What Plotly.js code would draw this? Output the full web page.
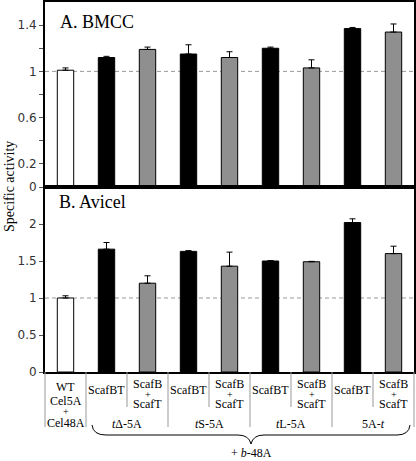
<!DOCTYPE html>
<html><head><meta charset="utf-8">
<script src="https://cdn.plot.ly/plotly-3.0.1.min.js"></script>
<style>html,body{margin:0;padding:0;background:#fff}</style>
</head><body><div id="chart" style="width:416px;height:461px"></div>
<script>
// ---- data ----
const categories = ['WT', 'tΔ-5A ScafBT', 'tΔ-5A ScafB+ScafT', 'tS-5A ScafBT', 'tS-5A ScafB+ScafT',
                    'tL-5A ScafBT', 'tL-5A ScafB+ScafT', '5A-t ScafBT', '5A-t ScafB+ScafT'];
const kinds = ['wt', 'bt', 'bst', 'bt', 'bst', 'bt', 'bst', 'bt', 'bst'];
const bmcc = [1.01, 1.12, 1.19, 1.15, 1.12, 1.20, 1.03, 1.37, 1.34];
const bmccErr = [0.02, 0.01, 0.02, 0.08, 0.05, 0.01, 0.07, 0.01, 0.07];
const avicel = [1.00, 1.66, 1.20, 1.63, 1.43, 1.50, 1.49, 2.02, 1.60];
const avicelErr = [0.03, 0.09, 0.10, 0.01, 0.19, 0.005, 0.005, 0.05, 0.10];
const catLabelLines = [['WT', 'Cel5A', '+', 'Cel48A'], ['ScafBT'], ['ScafB', '+', 'ScafT'], ['ScafBT'], ['ScafB', '+', 'ScafT'],
                       ['ScafBT'], ['ScafB', '+', 'ScafT'], ['ScafBT'], ['ScafB', '+', 'ScafT']];
const groupLabels = ['<i>t</i>Δ-5A', '<i>t</i>S-5A', '<i>t</i>L-5A', '5A-<i>t</i>'];
const bmccTickVals = [0, 0.2, 0.4, 0.6, 0.8, 1, 1.2, 1.4];
const bmccTickText = ['0', '0.2', '', '0.6', '', '1', '', '1.4'];
const avicelTickVals = [0, 0.5, 1, 1.5, 2];
const avicelTickText = ['0', '0.5', '1', '1.5', '2'];

// ---- styling ----
const W = 416, H = 461, ML = 45, MR = 2, MT = 2, MB = 89;
const PW = W - ML - MR, PH = H - MT - MB;
const px2x = p => (p - ML) / PW;
const px2y = p => (H - MB - p) / PH;
const colorMap = {wt: '#ffffff', bt: '#000000', bst: '#8f8f8f'};
const colors = kinds.map(k => colorMap[k]);
const xs = categories.map((c, i) => i);
const serif = 'Liberation Serif, Times New Roman, serif';
const sans = 'DejaVu Sans, Verdana, sans-serif';

function barTrace(vals, errs, xa, ya) {
  return {
    type: 'bar', x: xs, y: vals, xaxis: xa, yaxis: ya, width: 0.4,
    marker: {color: colors, line: {color: '#000', width: 1}},
    error_y: {type: 'data', symmetric: false, array: errs, arrayminus: vals.map(() => 0),
              color: '#000', thickness: 1, width: 3},
    hoverinfo: 'skip', showlegend: false, customdata: categories, textposition: 'none'
  };
}

const data = [barTrace(bmcc, bmccErr, 'x', 'y'), barTrace(avicel, avicelErr, 'x2', 'y2')];

const axX = {range: [-0.5, 8.5], showline: true, mirror: true, linewidth: 2, linecolor: '#000',
             showticklabels: false, ticks: '', showgrid: false, zeroline: false, fixedrange: true};
const axY = {showline: true, mirror: true, linewidth: 2, linecolor: '#000', ticks: 'outside', ticklen: 4,
             tickwidth: 1, tickcolor: '#555', showgrid: false, zeroline: false,
             tickfont: {family: sans, size: 12, color: '#333'}, tickmode: 'array'};

const shapes = [];
const annotations = [];
// dashed reference lines
['y', 'y2'].forEach(yr => shapes.push({type: 'line', xref: 'paper', x0: 0, x1: 1, yref: yr, y0: 1, y1: 1,
  layer: 'below', line: {color: '#999', width: 1, dash: '4px,3px'}}));
// separators in category table
const yBase = H - MB;
for (let b = 0; b <= 9; b++) {
  const isLong = (b === 0 || b === 1 || b === 9 || (b % 2 === 1));
  const yEnd = isLong ? 427 : 407;
  shapes.push({type: 'line', xref: 'paper', yref: 'paper', x0: b / 9, x1: b / 9,
    y0: px2y(yBase), y1: px2y(yEnd), line: {color: '#999', width: 1}});
}
// category labels
const linePos = {1: [390], 3: [384, 394, 404], 4: [387, 401, 411, 423]};
catLabelLines.forEach((lines, i) => {
  lines.forEach((t, j) => annotations.push({xref: 'paper', yref: 'paper', x: (i + 0.5) / 9,
    y: px2y(linePos[lines.length][j]), text: t, showarrow: false, xanchor: 'center', yanchor: 'middle',
    borderpad: 0, font: {family: serif, size: t === '+' ? 10 : 12, color: '#000'}}));
});
groupLabels.forEach((t, g) => annotations.push({xref: 'paper', yref: 'paper', x: (2 * g + 2) / 9,
  y: px2y(424), text: t, showarrow: false, xanchor: 'center', yanchor: 'middle', borderpad: 0,
  font: {family: serif, size: 12, color: '#000'}}));
// brace
const P = (x, y) => px2x(x).toFixed(4) + ',' + px2y(y).toFixed(4);
shapes.push({type: 'path', xref: 'paper', yref: 'paper', line: {color: '#000', width: 1},
  path: 'M' + P(92, 425) + ' Q' + P(93, 435) + ' ' + P(106, 435) + ' L' + P(238, 435) + ' Q' + P(249, 435) + ' ' + P(251, 444) +
        ' Q' + P(253, 435) + ' ' + P(264, 435) + ' L' + P(397, 435) + ' Q' + P(409, 435) + ' ' + P(410, 425)});
annotations.push({xref: 'paper', yref: 'paper', x: px2x(251), y: px2y(453), text: '+ <i>b</i>-48A',
  showarrow: false, xanchor: 'center', yanchor: 'middle', borderpad: 0, font: {family: serif, size: 12, color: '#000'}});
// panel titles
annotations.push({xref: 'paper', yref: 'paper', x: px2x(58), y: px2y(22), text: 'A. BMCC', showarrow: false,
  xanchor: 'left', yanchor: 'middle', font: {family: serif, size: 18, color: '#000'}});
annotations.push({xref: 'paper', yref: 'paper', x: px2x(57), y: px2y(202), text: 'B. Avicel', showarrow: false,
  xanchor: 'left', yanchor: 'middle', font: {family: serif, size: 18, color: '#000'}});
// y title
annotations.push({xref: 'paper', yref: 'paper', x: px2x(9), y: px2y(187), text: 'Specific activity', showarrow: false,
  textangle: -90, xanchor: 'center', yanchor: 'middle', font: {family: serif, size: 14, color: '#000'}});

const layout = {
  width: W, height: H, margin: {l: ML, r: MR, t: MT, b: MB, pad: 0},
  paper_bgcolor: '#fff', plot_bgcolor: '#fff', bargap: 0, showlegend: false,
  xaxis: Object.assign({}, axX, {anchor: 'y'}),
  xaxis2: Object.assign({}, axX, {anchor: 'y2'}),
  yaxis: Object.assign({}, axY, {domain: [0.5, 1], range: [0, 1.6], anchor: 'x', tickvals: bmccTickVals, ticktext: bmccTickText}),
  yaxis2: Object.assign({}, axY, {domain: [0, 0.5], range: [0, 2.5], anchor: 'x2', tickvals: avicelTickVals, ticktext: avicelTickText}),
  shapes: shapes, annotations: annotations
};
Plotly.newPlot('chart', data, layout, {displayModeBar: false, staticPlot: true});
</script></body></html>
